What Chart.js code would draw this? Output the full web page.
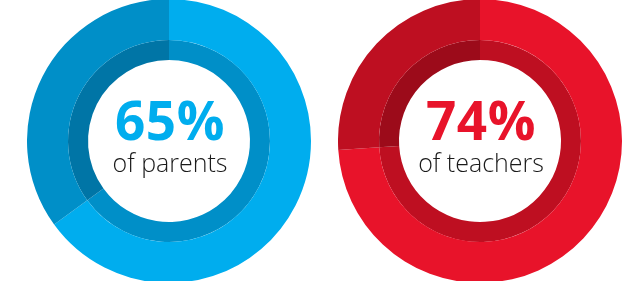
<!DOCTYPE html>
<html>
<head>
<meta charset="utf-8">
<script src="https://cdn.jsdelivr.net/npm/chart.js@4"></script>
<style>
  html, body { margin: 0; padding: 0; background: #fff; }
  body { width: 623px; height: 281px; position: relative; overflow: hidden; }
  .ring { position: absolute; width: 284px; height: 284px; top: -1px; }
  .ring canvas { width: 284px !important; height: 284px !important; }
  .label {
    position: absolute; width: 200px; text-align: center;
    font-family: "Open Sans", "Noto Sans", sans-serif;
  }
  .pct { position: absolute; left: 0; width: 200px; top: 93px; font-size: 53px; font-weight: 700; line-height: 1; letter-spacing: 0.5px; }
  .who { position: absolute; left: 0; width: 200px; top: 150px; font-size: 25px; font-weight: 300; color: #1a1a1a; line-height: 1; }
</style>
</head>
<body>
<div class="ring" id="wrap-parents" style="left:27px"><canvas id="parents"></canvas></div>
<div class="ring" id="wrap-teachers" style="left:338px"><canvas id="teachers"></canvas></div>
<div class="label" style="left:70px; top:0"><div class="pct" style="color:#00adee">65%</div><div class="who">of parents</div></div>
<div class="label" style="left:381px; top:0"><div class="pct" style="color:#e8132a">74%</div><div class="who">of teachers</div></div>
<script>
// ── data ─────────────────────────────
const groups = ['of parents', 'of teachers'];
const agreed = [65, 74];
const slices = ['Yes', 'Other'];

// ── colours per chart: outer ring [yes, other], inner ring [yes, other]
const BLUE = { outer: ['#00adee', '#008fc8'], inner: ['#008fc8', '#0075a6'] };
const RED  = { outer: ['#e8132a', '#be0f21'], inner: ['#be0f21', '#9c0b1a'] };

function drawRing(id, value, pal) {
  const rest = 100 - value;
  return new Chart(document.getElementById(id), {
    type: 'doughnut',
    data: {
      labels: slices,
      datasets: [
        { data: [value, rest], backgroundColor: pal.outer, borderWidth: 0, weight: 41 },
        { data: [value, rest], backgroundColor: pal.inner, borderWidth: 0, weight: 20 }
      ]
    },
    options: {
      responsive: false,
      animation: false,
      cutout: 81,
      events: [],
      layout: { padding: 0 },
      plugins: { legend: { display: false }, tooltip: { enabled: false } }
    }
  });
}

['parents', 'teachers'].forEach(id => {
  const c = document.getElementById(id);
  c.width = 284;
  c.height = 284;
});

drawRing('parents', agreed[0], BLUE);
drawRing('teachers', agreed[1], RED);
</script>
</body>
</html>
